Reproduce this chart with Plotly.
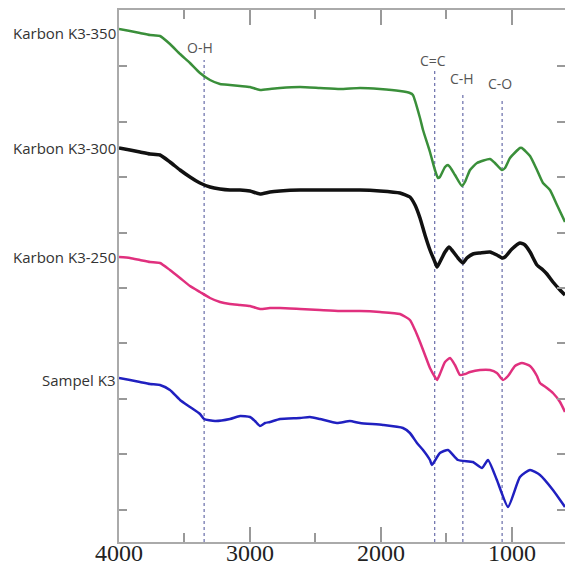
import plotly.graph_objects as go

# FTIR spectra (wavenumber cm^-1, stacked transmittance in arbitrary units)
wn_350 = [4000, 3916, 3840, 3763, 3687, 3611, 3534, 3458, 3382, 3305, 3229, 3153, 3076, 3000,
          2924, 2847, 2771, 2618, 2466, 2313, 2160, 2008, 1855, 1779, 1756, 1702, 1679, 1626,
          1588, 1565, 1550, 1511, 1488, 1473, 1435, 1382, 1359, 1320, 1267, 1168, 1130, 1076,
          1053, 1015, 939, 924, 862, 809, 763, 710, 656, 595]
t_350 = [513, 511, 509, 507, 506, 498, 488, 479, 469, 462, 458, 457, 456, 455,
         452, 453, 454, 455, 454, 453, 454, 453, 451, 449, 447, 424, 412, 390,
         372, 364, 365, 375, 377, 375, 367, 356, 360, 372, 379, 383, 379, 372,
         374, 384, 394, 394, 386, 372, 359, 352, 337, 320]

wn_300 = [4000, 3916, 3840, 3763, 3687, 3611, 3534, 3458, 3382, 3305, 3229, 3153, 3076, 3000,
          2924, 2847, 2771, 2618, 2466, 2313, 2160, 2008, 1855, 1779, 1740, 1702, 1664, 1626,
          1588, 1572, 1550, 1511, 1481, 1459, 1412, 1374, 1344, 1298, 1244, 1168, 1115, 1076,
          1053, 1000, 939, 901, 862, 809, 763, 733, 687, 633, 595]
t_300 = [394, 392, 390, 388, 387, 380, 372, 365, 359, 355, 353, 352, 352, 351,
         348, 350, 351, 352, 352, 352, 352, 351, 349, 345, 337, 324, 307, 292,
         280, 275, 280, 290, 295, 292, 284, 279, 284, 288, 289, 290, 287, 284,
         285, 293, 299, 297, 290, 277, 272, 268, 260, 252, 247]

wn_250 = [4000, 3916, 3840, 3763, 3687, 3611, 3534, 3458, 3382, 3305, 3229, 3153, 3076, 3000,
          2924, 2847, 2771, 2618, 2466, 2313, 2160, 2008, 1855, 1779, 1740, 1702, 1664, 1626,
          1588, 1572, 1550, 1511, 1473, 1435, 1397, 1359, 1320, 1244, 1168, 1115, 1069, 1030,
          977, 924, 862, 809, 786, 733, 687, 633, 595]
t_250 = [285, 284, 282, 280, 279, 272, 264, 256, 250, 244, 240, 238, 237, 236,
         233, 234, 234, 233, 232, 231, 231, 230, 228, 222, 212, 200, 187, 174,
         165, 162, 168, 180, 184, 177, 167, 168, 170, 172, 172, 169, 162, 166,
         176, 179, 176, 166, 159, 154, 149, 140, 130]

wn_k3 = [4000, 3916, 3840, 3763, 3687, 3611, 3534, 3458, 3382, 3351, 3267, 3153, 3076, 3000,
         2962, 2924, 2885, 2847, 2771, 2618, 2542, 2466, 2336, 2237, 2160, 1985, 1832, 1779,
         1725, 1679, 1626, 1611, 1550, 1488, 1412, 1298, 1229, 1183, 1115, 1030, 939, 862,
         786, 687, 595]
t_k3 = [164, 162, 160, 158, 157, 152, 142, 135, 128, 123, 121, 123, 126, 125,
        121, 116, 119, 120, 123, 124, 125, 123, 119, 121, 119, 117, 114, 109,
        99, 92, 82, 77, 89, 92, 82, 80, 74, 82, 62, 35, 65, 72,
        67, 52, 35]

series_names = ["Karbon K3-350", "Karbon K3-300", "Karbon K3-250", "Sampel K3"]
series_colors = ["#3a8f3a", "#111111", "#e0307e", "#2020c0"]
series_widths = [2.5, 3.5, 2.5, 2.5]
label_y = [509, 394, 285, 162]

band_names = ["O-H", "C=C", "C-H", "C-O"]
band_wn = [3350, 1590, 1375, 1075]
band_top = [482, 474, 450, 442]
band_label_wn = [3382, 1603, 1382, 1091]
band_label_y = [495, 482, 464, 459]

x_ticks = [4000, 3000, 2000, 1000]

fig = go.Figure()

for wn, top in zip(band_wn, band_top):
    fig.add_trace(go.Scatter(x=[wn, wn], y=[0, top], mode="lines",
                             line=dict(color="#7478b0", width=1.3, dash="dot"),
                             hoverinfo="skip", showlegend=False))

all_x = [wn_350, wn_300, wn_250, wn_k3]
all_y = [t_350, t_300, t_250, t_k3]
for name, xs, ys, c, w in zip(series_names, all_x, all_y, series_colors, series_widths):
    fig.add_trace(go.Scatter(x=xs, y=ys, mode="lines", name=name,
                             line=dict(color=c, width=w, shape="spline", smoothing=0.5),
                             showlegend=False))

for name, yy in zip(series_names, label_y):
    fig.add_annotation(x=0, xref="paper", y=yy, yref="y", text=name, showarrow=False,
                       xanchor="right", xshift=-1,
                       font=dict(family="Open Sans", size=15, color="#333333"))

for name, xx, yy in zip(band_names, band_label_wn, band_label_y):
    fig.add_annotation(x=xx, y=yy, text=name, showarrow=False,
                       font=dict(family="Open Sans", size=14, color="#555555"))

fig.update_layout(
    width=565, height=566,
    margin=dict(l=119, r=0, t=10, b=24, autoexpand=False),
    plot_bgcolor="white", paper_bgcolor="white",
    xaxis=dict(range=[4000, 595], tickvals=x_ticks, ticktext=[str(v) for v in x_ticks],
               automargin=False, ticklabelstandoff=-12,
               ticks="inside", ticklen=15, tickwidth=1.5, tickcolor="#999999",
               minor=dict(dtick=500, tick0=0, ticks="inside", ticklen=9, tickcolor="#999999", tickwidth=1.5),
               showline=True, linecolor="#aaaaaa", linewidth=2, mirror="allticks",
               showgrid=False, zeroline=False,
               tickfont=dict(family="Liberation Serif", size=24, color="#222222")),
    yaxis=dict(range=[0, 532], tick0=32.5, dtick=55.4, ticks="inside", ticklen=8,
               automargin=False,
               tickwidth=1.5, tickcolor="#999999", showticklabels=False,
               showline=True, linecolor="#aaaaaa", linewidth=2, mirror="allticks",
               showgrid=False, zeroline=False),
)

fig.write_html("out.html")
